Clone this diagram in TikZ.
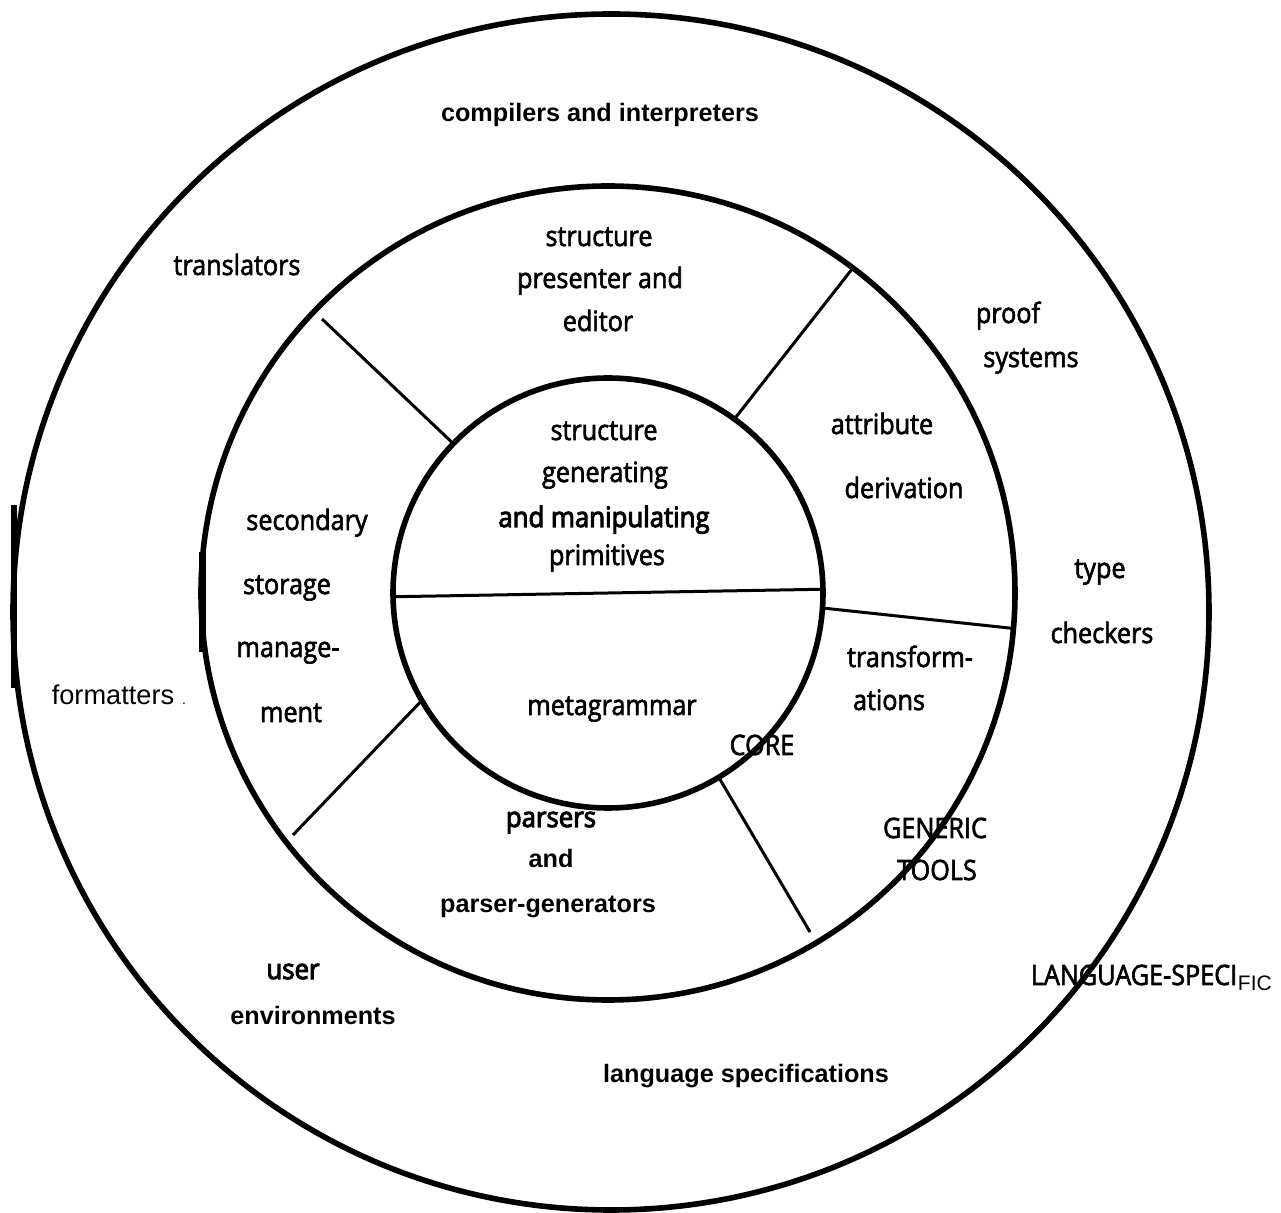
\documentclass[tikz,border=0pt]{standalone}
\usepackage{fontspec}
\setmainfont{Open Sans}
\newfontfamily\humfont{Open Sans}[FakeStretch=0.9,FakeBold=2.2]
\newfontfamily\humbold{Open Sans}[FakeStretch=0.92,FakeBold=3.6]
\newfontfamily\arialfont{Liberation Sans}
\tikzset{
  ring/.style={circle,draw,line width=2.8pt,inner sep=0pt,outer sep=0pt},
  divider/.style={line width=1.5pt},
  scanbar/.style={line width=3pt},
  lbl/.style={anchor=base,inner sep=0pt,font=\humfont\fontsize{14pt}{16pt}\selectfont},
  blbl/.style={lbl,font=\humbold\fontsize{14pt}{16pt}\selectfont},
  albl/.style={anchor=base,inner sep=0pt,font=\arialfont\bfseries\fontsize{12.6pt}{15pt}\selectfont},
  anorm/.style={anchor=base,inner sep=0pt,font=\arialfont\fontsize{13.6pt}{16pt}\selectfont},
}
\begin{document}
\begin{tikzpicture}[x=0.5pt,y=-0.5pt]
\useasboundingbox (0,0) rectangle (1281,1213);
\coordinate (c) at (608,593);
\node[ring,minimum size=598pt] (langspec) at (611,612) {};
\node[ring,minimum size=407pt] (generic) at (c) {};
\node[ring,minimum size=215pt] (core) at (c) {};
% scanner marks on the rings
\draw[scanbar] (14,505) -- (14,688);
\draw[scanbar,line width=3.5pt] (202.5,552) -- (202.5,652);
% sector lines
\coordinate (ulend) at (322,319);
\coordinate (lrend) at (810,932);
\coordinate (llend) at (293,835);
\draw[divider] (core.181) -- (core.1);
\draw[divider] (core.136) -- (ulend);
\draw[divider] (core.54) -- (generic.53);
\draw[divider] (core.-4.5) -- (generic.-5);
\draw[divider] (core.-59.5) -- (lrend);
\draw[divider] (core.210) -- (llend);
% outer ring
\node[albl] (compilers) at (600,122) {compilers and interpreters};
\node[lbl] (translators) at (237,275) {translators};
\node[lbl] (proof) at (1008,323) {proof};
\node[lbl] (systems) at (1031,367) {systems};
\node[lbl] (type) at (1100,578) {type};
\node[lbl] (checkers) at (1102,643) {checkers};
\node[anorm] (formatters) at (113,705) {formatters};
\node[anorm,font=\arialfont\fontsize{7pt}{8pt}\selectfont] (fdot) at (184,705) {.};
\node[blbl] (user) at (293,979) {user};
\node[albl] (environments) at (313,1024) {environments};
\node[albl] (langspecs) at (746,1082) {language specifications};
\node[lbl] (lsname) at (1134,985) {LANGUAGE-SPECI};
\node[anorm,anchor=base west,font=\arialfont\fontsize{10.5pt}{12pt}\selectfont] (lsfic) at ([yshift=-2.5pt]lsname.base east) {FIC};
% middle ring
\node[lbl] (presenter) at (599,246) {structure};
\node[lbl] (presenter2) at (600,288) {presenter and};
\node[lbl] (presenter3) at (598,331) {editor};
\node[lbl] (attribute) at (882,434) {attribute};
\node[lbl] (derivation) at (904,498) {derivation};
\node[lbl] (transform) at (910,667) {transform-};
\node[lbl] (transform2) at (889,710) {ations};
\node[lbl] (generictag) at (935,838) {GENERIC};
\node[lbl] (tooltag) at (937,880) {TOOLS};
\node[blbl] (parsers) at (551,827) {parsers};
\node[albl] (parsers2) at (551,868) {and};
\node[albl] (parsers3) at (548,913) {parser-generators};
\node[lbl] (storage) at (307,530) {secondary};
\node[lbl] (storage2) at (287,594) {storage};
\node[lbl] (storage3) at (288,657) {manage-};
\node[lbl] (storage4) at (291,722) {ment};
% core
\node[lbl] (prims) at (604,440) {structure};
\node[lbl] (prims2) at (605,482) {generating};
\node[blbl] (prims3) at (604,527) {and manipulating};
\node[lbl] (prims4) at (607,565) {primitives};
\node[lbl] (metagrammar) at (612,715) {metagrammar};
\node[lbl] (coretag) at (762,755) {CORE};
\end{tikzpicture}
\end{document}
